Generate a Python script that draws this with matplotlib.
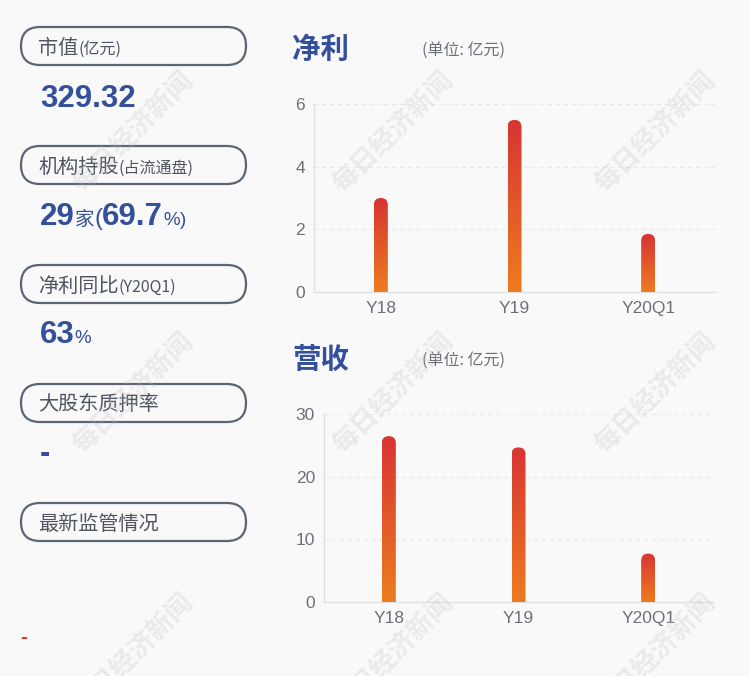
import numpy as np
import matplotlib
matplotlib.use("Agg")
from matplotlib import pyplot as plt
from matplotlib.patches import FancyBboxPatch
from matplotlib.colors import to_rgb

# data
categories = ["Y18", "Y19", "Y20Q1"]
net_profit = [3.0, 5.5, 1.85]
revenue = [26.5, 24.7, 7.7]
profit_ticks = [0, 2, 4, 6]
revenue_ticks = [0, 10, 20, 30]

pill_labels = [
    [("市值", 14.5), ("(亿元)", 11.5)],
    [("机构持股", 14.5), ("(占流通盘)", 11.5)],
    [("净利同比", 14.5), ("(Y20Q1)", 11.5)],
    [("大股东质押率", 14.5)],
    [("最新监管情况", 14.5)],
]
market_value = "329.32"
inst_count = "29"
inst_ratio = "69.7"
profit_yoy = "63"

W, H = 750, 676
BG = "#f9f9f9"
BLUE = "#34509c"
GRAY_TXT = "#4f5561"
TICK = "#6e7079"
CJK = "Noto Sans CJK SC"
LAT = "Liberation Sans"

fig = plt.figure(figsize=(W / 100, H / 100), dpi=100, facecolor=BG)
base = fig.add_axes([0, 0, 1, 1])
base.set_xlim(0, W)
base.set_ylim(0, H)
base.axis("off")
renderer = fig.canvas.get_renderer()


def Y(py):
    return H - py


def runs(x, py, parts):
    # parts: (text, size, weight, family, color)
    for txt, size, weight, fam, col in parts:
        t = base.text(x, Y(py), txt, fontsize=size, fontweight=weight,
                      family=fam, color=col, ha="left", va="baseline")
        x += t.get_window_extent(renderer).width


# left panel pills
for i, lab in enumerate(pill_labels):
    top = 27 + 119 * i
    box = FancyBboxPatch((21, Y(top + 38)), 225, 38,
                         boxstyle="round,pad=0,rounding_size=19",
                         fc="none", ec="#5b6573", lw=1.6)
    base.add_patch(box)
    runs(38, top + 26.5, [(t, s, "normal", [CJK], GRAY_TXT) for t, s in lab])

runs(40, 107, [(market_value, 22.5, "bold", [LAT], BLUE)])
runs(40, 225, [(inst_count, 22.5, "bold", [LAT], BLUE),
               ("家", 14, "normal", [CJK], BLUE),
               ("(", 17, "normal", [LAT], BLUE),
               (inst_ratio, 22.5, "bold", [LAT], BLUE),
               ("%", 13.5, "normal", [LAT], BLUE),
               (")", 13.5, "normal", [LAT], BLUE)])
runs(40, 343, [(profit_yoy, 22.5, "bold", [LAT], BLUE),
               ("%", 13.5, "normal", [LAT], BLUE)])
runs(40, 462, [("-", 22, "bold", [LAT], BLUE)])
runs(20, 643, [("-", 15, "bold", [LAT], "#e03030")])

# chart titles
for py, title in [(50, "净利"), (360, "营收")]:
    base.text(292, Y(py), title, fontsize=20.5, fontweight="bold", family=[CJK],
              color=BLUE, ha="left", va="center")
    base.text(422, Y(py), "(单位: 亿元)", fontsize=11.5, family=[CJK],
              color=TICK, ha="left", va="center")

top_c = np.array(to_rgb("#d83434"))
bot_c = np.array(to_rgb("#ec7c1f"))
grad = np.linspace(0, 1, 256)[:, None, None] * (bot_c - top_c) + top_c


def bar_chart(rect_px, values, ticks):
    l, r, t, b = rect_px
    ax = fig.add_axes([l / W, (H - b) / H, (r - l) / W, (b - t) / H])
    ax.set_facecolor("none")
    ax.set_xlim(-0.5, len(categories) - 0.5)
    ax.set_ylim(ticks[0], ticks[-1])
    ppu = ax.transData.transform((1, 1)) - ax.transData.transform((0, 0))
    bw = 14 / ppu[0]
    aspect = ppu[0] / ppu[1]
    rad = bw / 2
    for i, v in enumerate(values):
        patch = FancyBboxPatch((i - bw / 2, -rad * aspect * 2), bw, v + rad * aspect * 2,
                               boxstyle=f"round,pad=0,rounding_size={rad}",
                               mutation_aspect=aspect)
        patch.set_transform(ax.transData)
        im = ax.imshow(grad, extent=(i - bw / 2, i + bw / 2, 0, v),
                       aspect="auto", zorder=3, interpolation="bilinear")
        im.set_clip_path(patch)
    ax.set_xlim(-0.5, len(categories) - 0.5)
    ax.set_ylim(ticks[0], ticks[-1])
    ax.set_xticks(range(len(categories)))
    ax.set_xticklabels(categories)
    ax.set_yticks(ticks)
    for tk in ticks[1:]:
        ax.axhline(tk, color="#e8e8e8", lw=0.8, ls=(0, (4, 3)), zorder=1)
    for s in ["top", "right"]:
        ax.spines[s].set_visible(False)
    for s in ["left", "bottom"]:
        ax.spines[s].set_color("#e0e0e0")
        ax.spines[s].set_linewidth(1)
    ax.tick_params(length=0, pad=6.5, labelsize=12.5, labelcolor=TICK)
    for lbl in ax.get_xticklabels() + ax.get_yticklabels():
        lbl.set_family(LAT)
    return ax


bar_chart((314, 715, 104.3, 291.7), net_profit, profit_ticks)
bar_chart((324, 713, 414.3, 601.7), revenue, revenue_ticks)

# watermarks (cut off at the bottom edge, as in the source image)
for wx in [133, 393, 655]:
    for wy in [132, 393, 654]:
        fig.text(wx / W, 1 - wy / H, "每日经济新闻", rotation=45, ha="center",
                 va="center", rotation_mode="anchor", fontsize=19,
                 fontweight="bold", family=[CJK], color="#bdbdbd", alpha=0.25,
                 zorder=10)

fig.savefig("out.png", dpi=100, facecolor=BG)
